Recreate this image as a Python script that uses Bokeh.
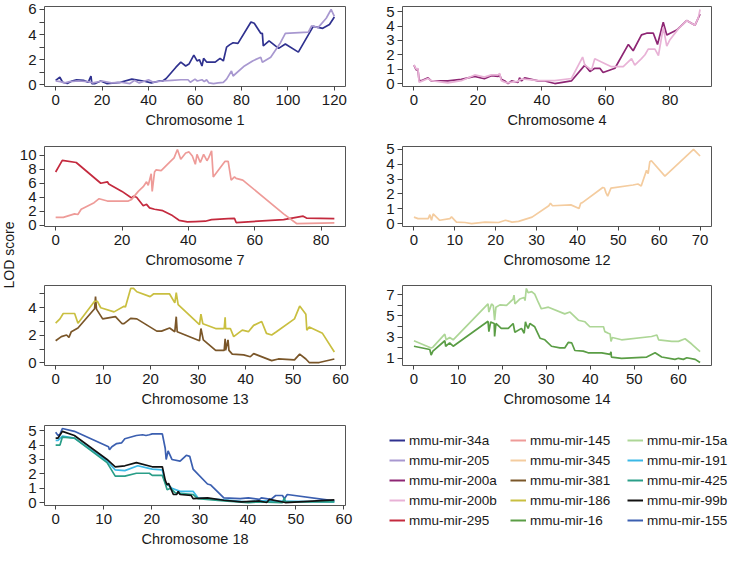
import math
from bokeh.plotting import figure
from bokeh.layouts import row, column
from bokeh.models import Range1d, FixedTicker, Label, Legend, LegendItem
from bokeh.embed import file_html
from bokeh.resources import INLINE

FONT = "Liberation Sans"
TXT = "#1a1a1a"

# ---------------- data ----------------
# Chromosome 1
mir34a_x = [0, 1.8, 3, 5, 7, 9, 12, 14, 15.2, 15.6, 17, 19.4, 22, 27.9, 32.8, 37.7, 41.2, 44.7, 46.1, 47.6,
            51.8, 53.9, 56, 57.4, 59.5, 60.9, 61.9, 63, 63.7, 65.1, 68.7, 70.8, 72.2, 73.6, 75, 76.4, 78.5,
            84.1, 85.5, 88.3, 89, 89.4, 91.9, 96, 98.9, 104.5, 110.9, 115, 117.9, 120]
mir34a_y = [0.35, 0.6, 0.2, 0.1, 0.3, 0.4, 0.35, 0.2, 0.7, 0.1, 0.1, 0.3, 0.1, 0.2, 0.45, 0.3, 0.15, 0.3, 0.3, 0.5,
            1.4, 1.8, 1.5, 1.65, 2.36, 1.9, 2.0, 1.5, 2.1, 1.8, 1.8, 2.1, 1.9, 3.0, 3.2, 3.35, 3.3,
            5.0, 4.9, 4.1, 4.1, 3.1, 3.5, 2.9, 3.25, 2.6, 4.65, 4.5, 4.8, 5.4]
mir205_x = [0, 2, 4, 6, 10, 14, 16, 20, 24, 28, 32, 34, 36, 40, 42, 46, 50, 54, 57, 58, 60, 61, 63, 64, 65, 66,
            68, 70, 72.2, 73.6, 75.7, 76.4, 81.3, 84.8, 88.3, 89, 92.6, 96.8, 98.9, 108.8, 110.2, 113, 116.5,
            118.6, 120]
mir205_y = [0.3, 0.25, 0.15, 0.25, 0.3, 0.25, 0.15, 0.3, 0.15, 0.2, 0.1, 0.35, 0.15, 0.4, 0.2, 0.3, 0.35, 0.4,
            0.4, 0.2, 0.45, 0.3, 0.4, 0.25, 0.4, 0.15, 0.1, 0.15, 0.2, 0.45, 1.1, 0.7, 1.5, 1.9, 2.2, 1.8, 2.2,
            3.35, 4.1, 4.2, 4.7, 4.55, 5.3, 6.0, 5.45]
# Chromosome 4
mir200a_x = [0, 0.7, 1.25, 1.6, 2.3, 4.4, 5.4, 10.6, 14.8, 19, 22, 24.2, 26.3, 26.8, 27.3, 28.4, 29.4, 30.5,
             32.5, 33, 33.6, 34.6, 36.7, 38.8, 40.9, 44, 49.2, 53.4, 55, 56.5, 58.1, 59.1, 62.8, 67, 68.5,
             71.1, 72.7, 74.8, 76.1, 77.9, 79, 82.1, 85.2, 87.8, 89.4]
mir200a_y = [1.28, 0.95, 1.0, 0.2, 0.2, 0.4, 0.18, 0.18, 0.29, 0.5, 0.33, 0.55, 0.5, 0.6, 0.29, 0.18, 0.0, 0.18,
             0.07, 0.4, 0.18, 0.4, 0.29, 0.18, 0.18, 0.0, 0.18, 1.28, 0.84, 1.06, 1.06, 0.77, 1.06, 2.72, 2.28,
             3.38, 3.5, 3.5, 2.72, 4.27, 3.38, 3.72, 4.38, 4.05, 4.82]
mir200b_x = [0, 0.7, 1.25, 1.6, 2.3, 4.4, 5.4, 10.6, 14.8, 19, 22, 24.2, 26.3, 26.8, 27.3, 28.4, 29.4, 30.5,
             32.5, 33, 33.6, 34.6, 36.7, 38.8, 40.9, 44, 49.2, 52.7, 53.4, 55.5, 56.5, 58.6, 61.7, 65.4, 68,
             69, 71.1, 72.2, 73.2, 75.3, 76.4, 77.9, 79, 80, 82.6, 85.2, 87.8, 88.9, 89.4]
mir200b_y = [1.3, 1.0, 1.05, 0.1, 0.15, 0.35, 0.2, 0.05, 0.2, 0.6, 0.45, 0.6, 0.6, 0.7, 0.2, 0.1, 0.05, 0.1,
             0.15, 0.25, 0.3, 0.3, 0.25, 0.2, 0.2, 0.2, 0.35, 1.84, 1.28, 0.95, 1.73, 1.5, 1.17, 1.17, 1.73,
             1.28, 1.73, 2.0, 2.39, 2.39, 1.95, 3.9, 2.6, 3.05, 3.8, 4.38, 4.05, 4.6, 5.15]
# Chromosome 7
mir295_x = [0, 2, 6.2, 13.6, 15.6, 16, 20, 22.9, 23.4, 24.4, 26.4, 27.4, 28.3, 29.8, 32.3, 35.2, 37.2, 39.7,
            42.1, 45.1, 47, 52, 53.9, 54.4, 68.7, 74.6, 75.6, 84]
mir295_y = [7.6, 9.25, 8.95, 6.0, 6.2, 5.9, 4.84, 3.9, 4.15, 4.0, 2.8, 3.0, 2.5, 2.3, 2.1, 1.4, 0.73, 0.5,
            0.55, 0.6, 0.82, 0.96, 1.0, 0.41, 0.82, 1.32, 1.05, 0.96]
mir145_x = [0, 2.3, 5.7, 6.7, 7.7, 11.6, 13.1, 15.6, 21.9, 22.9, 24.9, 26.4, 27.4, 27.9, 28.8, 29.1, 29.8, 30.3,
            31.8, 34.3, 35.7, 36.7, 37.7, 39.2, 40.2, 41.2, 42.1, 42.6, 43.6, 44.6, 45.6, 46.1, 47, 47.5, 51,
            52, 52.9, 53.9, 54.4, 56.4, 68.7, 72.6, 84]
mir145_y = [1.15, 1.15, 1.65, 1.55, 2.3, 3.24, 3.8, 3.47, 3.47, 3.7, 4.84, 5.5, 6.2, 5.7, 7.35, 4.84, 7.58, 7.9,
            7.8, 8.95, 9.6, 10.8, 9.4, 10.3, 10.45, 9.86, 8.7, 10.1, 8.95, 10.1, 9.2, 9.6, 10.6, 6.9, 9.1,
            9.1, 6.45, 6.9, 6.7, 6.45, 1.65, 0.27, 0.37]
# Chromosome 12
mir345_x = [0, 1, 3.5, 3.9, 4.3, 4.7, 5.5, 6.3, 8.8, 9.2, 10.4, 12.5, 14.1, 17.4, 20.7, 22.4, 24, 25.6, 28.9,
            33, 33.4, 33.9, 38.4, 40.4, 40.8, 41.2, 46.2, 46.6, 47, 47.4, 48.2, 53.6, 54.8, 55.6, 56.9, 57.3,
            57.7, 58.1, 61.4, 68.4, 70]
mir345_y = [0.43, 0.33, 0.33, 0.6, 0.22, 0.65, 0.43, 0.22, 0.33, 0.45, 0.1, 0.07, 0.0, 0.1, 0.07, 0.22, 0.1,
            0.15, 0.43, 1.2, 1.37, 1.2, 1.26, 1.02, 1.37, 1.41, 2.43, 2.4, 2.07, 1.85, 2.39, 2.6, 2.67, 2.54,
            3.59, 3.37, 4.17, 4.24, 3.2, 5.0, 4.56]
# Chromosome 13
mir186_x = [0, 0.9, 1.6, 4, 4.7, 8.2, 8.8, 9.5, 12.3, 14.4, 14.7, 15.8, 16.4, 17.1, 19.9, 20.6, 24, 25.1,
            25.4, 25.8, 30.3, 30.6, 31, 33.7, 35.5, 35.7, 35.8, 36.8, 37.5, 39.3, 40.6, 41.7, 43.4, 44.4,
            45.5, 46.5, 50.3, 51.4, 52.7, 52.9, 53.4, 56.2, 58.7]
mir186_y = [2.88, 3.19, 3.58, 3.58, 2.88, 4.47, 4.47, 4.0, 3.7, 4.1, 4.05, 5.4, 5.4, 5.16, 4.81, 5.0, 5.0,
            4.35, 5.09, 4.23, 2.77, 3.53, 2.84, 2.49, 2.49, 3.3, 2.49, 2.49, 1.9, 2.37, 2.26, 2.72, 3.0, 2.14,
            2.02, 2.26, 3.19, 4.12, 3.53, 2.37, 2.6, 2.14, 0.79]
mir381_x = [0, 1.2, 2.3, 2.8, 3.3, 4.7, 8.2, 8.4, 8.6, 9.9, 12.6, 14, 14.4, 15.8, 17.1, 21.3, 22.3, 24, 25.1,
            25.4, 25.6, 30.3, 30.6, 31.1, 33.7, 35.5, 35.7, 35.8, 36.3, 36.5, 37.2, 39.6, 41, 41.7, 45.5,
            46.9, 50.3, 51.4, 52.7, 53.4, 55.5, 58.7]
mir381_y = [1.6, 1.9, 2.02, 1.85, 2.26, 2.53, 3.93, 4.81, 3.9, 3.19, 3.35, 2.84, 2.84, 3.23, 3.19, 2.3, 2.3,
            2.53, 2.26, 3.35, 2.26, 1.6, 2.49, 1.67, 0.9, 0.9, 1.74, 0.9, 1.67, 0.9, 0.63, 0.58, 0.44, 0.67,
            0.16, 0.28, 0.21, 0.63, 0.28, 0.02, 0.02, 0.28]
# Chromosome 14
mir15a_x = [0, 3.9, 4.3, 7, 7.3, 8.1, 8.9, 16.8, 17, 17.6, 18, 18.3, 18.6, 19.5, 21, 22.5, 22.7, 22.9, 24, 25,
            25.2, 25.5, 25.9, 26.7, 27.4, 28.2, 28.9, 30.5, 34.2, 35.4, 37.3, 38.8, 39.9, 41.8, 43, 43.3,
            44.1, 44.5, 44.7, 45, 47.1, 53.9, 55.1, 55.5, 58.5, 60, 61.5, 63, 64.9]
mir15a_y = [2.66, 1.98, 2.05, 3.28, 2.75, 2.97, 2.75, 6.14, 5.37, 6.14, 5.98, 4.6, 5.83, 6.05, 6.0, 6.6, 6.97,
            6.14, 6.6, 6.75, 6.45, 7.6, 7.2, 7.3, 7.06, 6.3, 5.68, 5.83, 5.2, 5.37, 4.6, 4.45, 3.98, 3.98, 3.98,
            3.52, 3.37, 3.3, 2.6, 2.97, 2.75, 3.06, 3.2, 2.75, 2.6, 2.6, 2.85, 2.35, 1.62]
mir16_x = [0, 3.6, 3.9, 4.3, 7, 7.2, 8.1, 8.9, 16.8, 17, 17.4, 18.2, 18.3, 18.6, 19.8, 21.4, 22.5, 22.9, 24.4,
           25, 25.3, 25.5, 25.9, 26.3, 27.4, 28.6, 29.7, 31.2, 33.1, 34.2, 35, 35.8, 36.5, 38.4, 39.5, 42.6,
           44.5, 44.7, 44.8, 47.1, 52.8, 54.7, 56.2, 59.2, 60, 61.1, 61.9, 63.8, 64.9]
mir16_y = [2.14, 1.83, 1.3, 1.68, 2.66, 2.14, 2.45, 2.14, 4.5, 3.52, 4.44, 4.29, 3.06, 4.29, 3.83, 3.83, 4.29,
           3.46, 3.83, 3.37, 4.45, 4.15, 3.83, 4.29, 3.98, 2.9, 2.75, 2.14, 1.98, 1.98, 2.5, 2.45, 1.74, 1.68,
           1.52, 1.52, 1.37, 1.62, 1.12, 1.0, 1.12, 1.52, 1.12, 0.9, 1.0, 0.9, 1.05, 0.9, 0.6]
# Chromosome 18
mir155_x = [0, 0.5, 0.9, 1.4, 3.9, 11, 11.2, 11.7, 12.7, 13.7, 14.4, 16.8, 18.1, 18.8, 19.5, 20.1, 22.2, 22.8,
            23, 23.4, 24.2, 25.9, 27.2, 27.9, 28.6, 31.6, 32.3, 35, 38.4, 40.1, 42.4, 42.8, 44.8, 45.8, 47.2,
            47.6, 48.2, 58]
mir155_y = [4.89, 4.67, 4.75, 5.16, 4.96, 3.89, 3.67, 3.89, 4.11, 4.15, 4.44, 4.67, 4.72, 4.67, 4.72, 4.78,
            4.78, 3.78, 3.0, 3.6, 3.0, 2.89, 3.29, 3.22, 2.33, 1.29, 1.22, 0.33, 0.27, 0.33, 0.22, 0.33, 0.22,
            0.49, 0.49, 0.27, 0.56, 0.11]
mir99b_x = [0, 0.5, 1.4, 3.9, 10.7, 12.4, 14.4, 16.8, 20.1, 22.2, 22.8, 23.2, 23.5, 24.5, 25.2, 25.5, 25.9,
            28.2, 28.6, 31.6, 35, 38.7, 42.4, 43.9, 44.5, 47.8, 58]
mir99b_y = [4.49, 4.49, 4.96, 4.67, 3.0, 2.49, 2.56, 2.78, 2.49, 2.49, 1.56, 1.22, 1.33, 0.56, 0.56, 0.78, 0.56,
            0.5, 0.27, 0.33, 0.16, 0.04, 0.11, 0.0, 0.22, 0.0, 0.18]
mir191_x = [0, 0.5, 1.4, 3.9, 10.7, 12.4, 14.4, 17.1, 20.1, 22.2, 22.8, 24.2, 25.9, 28.6, 29.6, 35, 39.7, 42.4, 58]
mir191_y = [4.33, 4.33, 4.62, 4.49, 2.89, 2.27, 2.22, 2.56, 2.33, 2.27, 1.38, 1.0, 0.78, 0.78, 0.33, 0.18, 0.04,
            0.11, 0.04]
mir425_x = [0, 0.9, 1.4, 3.9, 10.7, 12.4, 14.4, 16.8, 19.5, 20.1, 22.2, 22.8, 23.2, 23.9, 24.9, 28.6, 29.6, 35,
            40.1, 42.4, 47.2, 47.6, 47.8, 58]
mir425_y = [4.0, 4.0, 4.56, 4.49, 2.78, 1.84, 1.84, 2.04, 2.04, 1.89, 1.89, 1.33, 0.89, 1.0, 0.67, 0.56, 0.27,
            0.11, 0.0, 0.04, 0.0, 0.33, 0.04, 0.04]

legend_cols = [["mmu-mir-34a", "mmu-mir-205", "mmu-mir-200a", "mmu-mir-200b", "mmu-mir-295"],
               ["mmu-mir-145", "mmu-mir-345", "mmu-mir-381", "mmu-mir-186", "mmu-mir-16"],
               ["mmu-mir-15a", "mmu-mir-191", "mmu-mir-425", "mmu-mir-99b", "mmu-mir-155"]]
colors = {
    "mmu-mir-34a": "#2f318f", "mmu-mir-205": "#a898d0", "mmu-mir-200a": "#8e2674", "mmu-mir-200b": "#e8b2d6",
    "mmu-mir-295": "#c42a3e", "mmu-mir-145": "#ee9b98", "mmu-mir-345": "#f4cc9f", "mmu-mir-381": "#7a5629",
    "mmu-mir-186": "#c9bf40", "mmu-mir-16": "#5a9d45", "mmu-mir-15a": "#add696", "mmu-mir-191": "#3ab8e6",
    "mmu-mir-425": "#2a9e88", "mmu-mir-99b": "#111111", "mmu-mir-155": "#3b5fb0",
}
series = {
    "mmu-mir-34a": (mir34a_x, mir34a_y), "mmu-mir-205": (mir205_x, mir205_y),
    "mmu-mir-200a": (mir200a_x, mir200a_y), "mmu-mir-200b": (mir200b_x, mir200b_y),
    "mmu-mir-295": (mir295_x, mir295_y), "mmu-mir-145": (mir145_x, mir145_y),
    "mmu-mir-345": (mir345_x, mir345_y), "mmu-mir-381": (mir381_x, mir381_y),
    "mmu-mir-186": (mir186_x, mir186_y), "mmu-mir-16": (mir16_x, mir16_y),
    "mmu-mir-15a": (mir15a_x, mir15a_y), "mmu-mir-191": (mir191_x, mir191_y),
    "mmu-mir-425": (mir425_x, mir425_y), "mmu-mir-99b": (mir99b_x, mir99b_y),
    "mmu-mir-155": (mir155_x, mir155_y),
}

# ---------------- layout helpers ----------------
LAB_W = 16
LW_LEFT = 364 - LAB_W     # left column canvas width
LW_RIGHT = 365
ROW_H = [140, 139, 140, 135]
FRAME_H = 80
TOP_B = 6


def rpad(vals, frac=0.04):
    lo, hi = min(vals), max(vals)
    d = (hi - lo) * frac
    return lo - d, hi + d


def panel(names, xlabel, xticks, ymajor, yminor, side, h):
    xs = [v for n in names for v in series[n][0]]
    ys = [v for n in names for v in series[n][1]]
    x0, x1 = rpad(xs)
    y0, y1 = rpad(ys)
    if side == "L":
        w, bl, br = LW_LEFT, 25, 19
    else:
        w, bl, br = LW_RIGHT, 38, 18
    p = figure(width=w, height=h, x_range=Range1d(x0, x1), y_range=Range1d(y0, y1),
               output_backend="svg", toolbar_location=None,
               min_border_left=bl, min_border_right=br, min_border_top=TOP_B,
               min_border_bottom=h - TOP_B - FRAME_H)
    for n in names:
        xv, yv = series[n]
        p.line(xv, yv, line_color=colors[n], line_width=1.7)
    p.grid.visible = False
    p.outline_line_color = "#555555"
    p.outline_line_width = 1
    p.background_fill_color = "white"
    p.border_fill_color = "white"
    p.xaxis.ticker = FixedTicker(ticks=xticks)
    p.yaxis.ticker = FixedTicker(ticks=ymajor, minor_ticks=yminor)
    for ax, tl, so in ((p.xaxis[0], 4, 4), (p.yaxis[0], 5, 3)):
        ax.axis_line_color = None
        ax.major_tick_in = 0
        ax.major_tick_out = tl
        ax.minor_tick_in = 0
        ax.minor_tick_out = tl
        ax.major_tick_line_color = "#444444"
        ax.minor_tick_line_color = "#444444"
        ax.major_label_text_font = FONT
        ax.major_label_text_font_size = "15px"
        ax.major_label_text_color = TXT
        ax.major_label_standoff = so
    p.yaxis.major_label_orientation = "horizontal"
    p.xaxis.axis_label = xlabel
    p.xaxis.axis_label_text_font = FONT
    p.xaxis.axis_label_text_font_size = "14.5px"
    p.xaxis.axis_label_text_font_style = "normal"
    p.xaxis.axis_label_text_color = TXT
    p.xaxis.axis_label_standoff = 4
    return p


p1 = panel(["mmu-mir-34a", "mmu-mir-205"], "Chromosome 1", [0, 20, 40, 60, 80, 100, 120],
           [0, 2, 4, 6], [1, 3, 5], "L", ROW_H[0])
p2 = panel(["mmu-mir-200a", "mmu-mir-200b"], "Chromosome 4", [0, 20, 40, 60, 80],
           [0, 1, 2, 3, 4, 5], [], "R", ROW_H[0])
p3 = panel(["mmu-mir-295", "mmu-mir-145"], "Chromosome 7", [0, 20, 40, 60, 80],
           [0, 2, 4, 6, 8, 10], [], "L", ROW_H[1])
p4 = panel(["mmu-mir-345"], "Chromosome 12", [0, 10, 20, 30, 40, 50, 60, 70],
           [0, 1, 2, 3, 4, 5], [], "R", ROW_H[1])
p5 = panel(["mmu-mir-381", "mmu-mir-186"], "Chromosome 13", [0, 10, 20, 30, 40, 50, 60],
           [0, 2, 4], [1, 3, 5], "L", ROW_H[2])
p6 = panel(["mmu-mir-16", "mmu-mir-15a"], "Chromosome 14", [0, 10, 20, 30, 40, 50, 60],
           [1, 3, 5, 7], [2, 4, 6], "R", ROW_H[2])
p7 = panel(["mmu-mir-155", "mmu-mir-191", "mmu-mir-425", "mmu-mir-99b"], "Chromosome 18",
           [0, 10, 20, 30, 40, 50, 60], [0, 1, 2, 3, 4, 5], [], "L", ROW_H[3])

# legend panel: three columns, each its own small figure
LEG_W = [146, 117, 102]
LEG_LEFT = [25, 0, 0]
leg_figs = []
for names, w, bl in zip(legend_cols, LEG_W, LEG_LEFT):
    lf = figure(width=w, height=ROW_H[3], x_range=Range1d(0, 1), y_range=Range1d(0, 1),
                output_backend="svg", toolbar_location=None, x_axis_type=None, y_axis_type=None,
                min_border_left=bl, min_border_top=13, min_border_right=0, min_border_bottom=0)
    lf.outline_line_color = None
    items = []
    for n in names:
        r = lf.line([0, 1], [-5, -5], line_color=colors[n], line_width=2)
        items.append(LegendItem(label=n, renderers=[r]))
    leg = Legend(items=items, location="top_left", orientation="vertical",
                 label_text_font=FONT, label_text_font_size="13.5px", label_text_color=TXT,
                 glyph_width=16, glyph_height=16, label_height=16, label_width=10, label_standoff=4,
                 spacing=4, padding=0, margin=0, border_line_color=None, background_fill_alpha=0)
    lf.add_layout(leg)
    leg_figs.append(lf)

# y-axis title strip
total_h = sum(ROW_H)
lab = figure(width=LAB_W, height=total_h, x_range=Range1d(0, 1), y_range=Range1d(0, 1),
             output_backend="svg", toolbar_location=None, x_axis_type=None, y_axis_type=None,
             min_border=0)
lab.outline_line_color = None
lab.add_layout(Label(x=0.5, y=1 - (262.5 - 8) / total_h, text="LOD score", angle=math.pi / 2,
                     text_align="center", text_baseline="middle", text_font=FONT,
                     text_font_size="14px", text_color=TXT))

left = column(p1, p3, p5, p7, spacing=0)
right = column(p2, p4, p6, row(*leg_figs, spacing=0), spacing=0)
layout = row(lab, left, right, spacing=0)

open("out.html", "w").write(file_html(layout, INLINE))
